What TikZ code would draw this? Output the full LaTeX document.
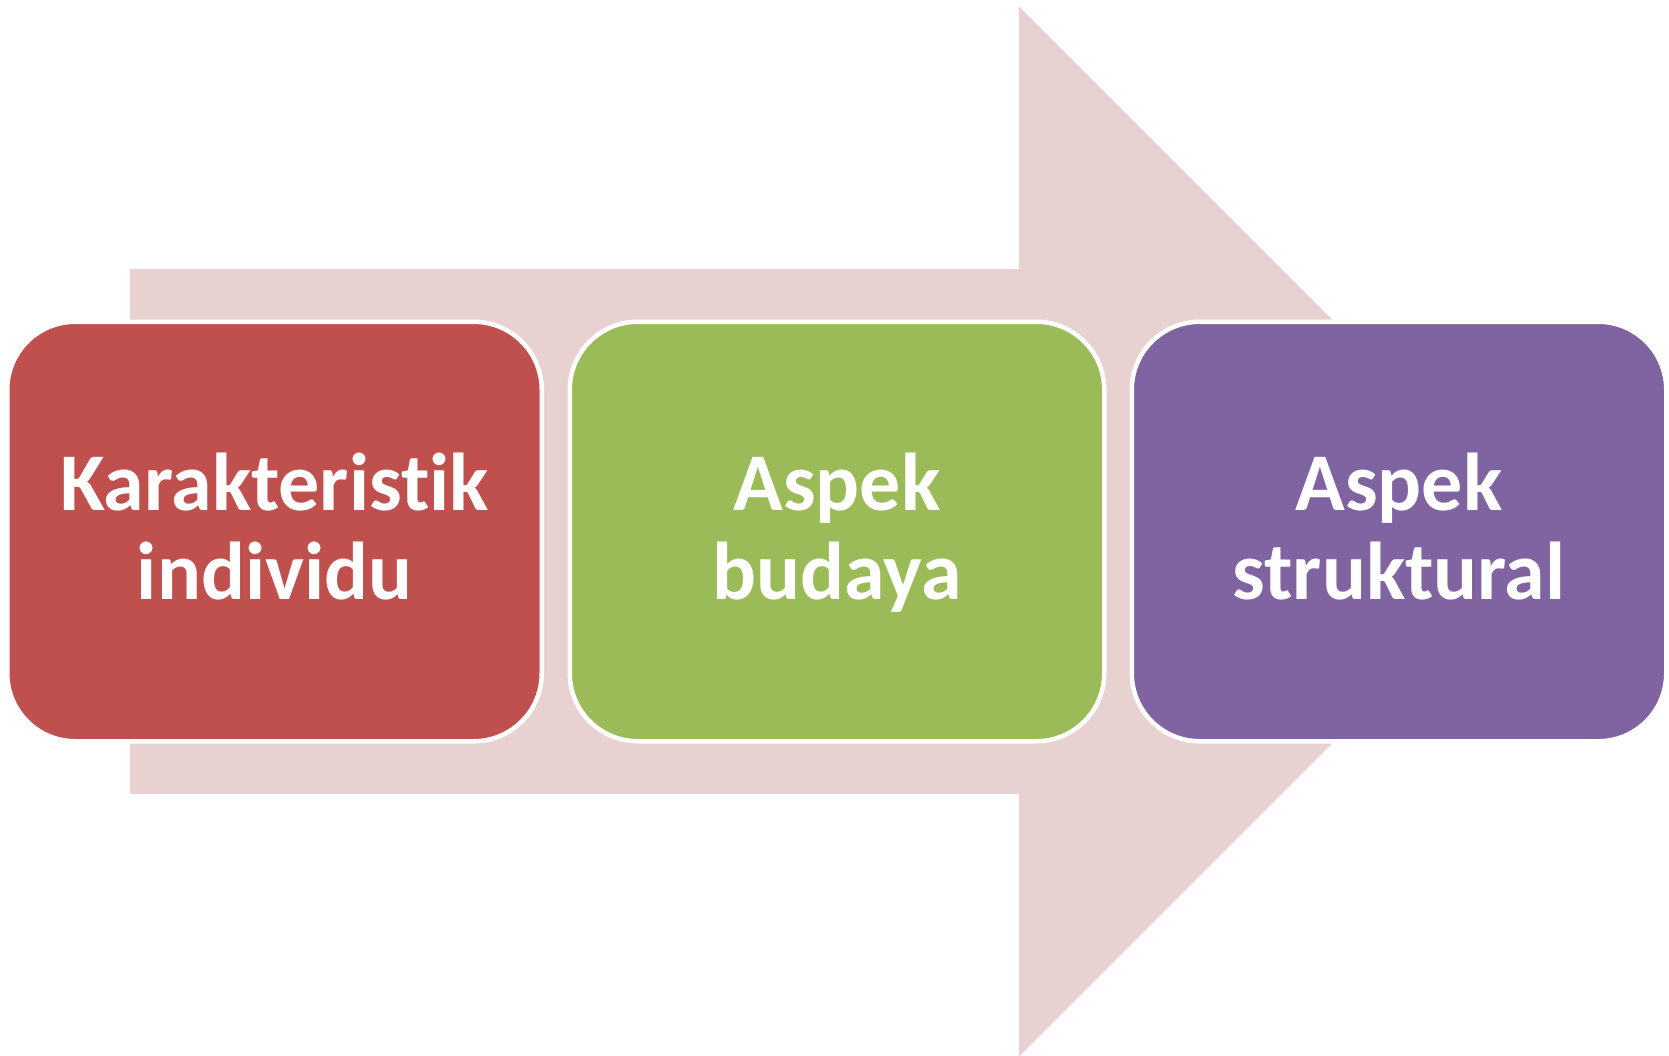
\documentclass[tikz,border=0pt]{standalone}
\usepackage{fontspec}
\setmainfont{Carlito}[RawFeature={-liga;-clig;-dlig}]
\usetikzlibrary{calc}
\definecolor{arrowpink}{HTML}{E8D1D1}
\definecolor{boxred}{HTML}{C0504D}
\definecolor{boxgreen}{HTML}{9BBB59}
\definecolor{boxpurple}{HTML}{8064A2}
\tikzset{
  stagebox/.style={draw=white, line width=2.25pt, rounded corners=34pt,
    minimum width=267.25pt, minimum height=209.75pt, inner sep=0pt},
  lbl/.style={text=white, font=\fontsize{41}{48}\selectfont\bfseries,
    inner sep=0pt, anchor=base}
}
\begin{document}
\begin{tikzpicture}[x=0.5pt, y=-0.5pt]
\useasboundingbox (0,0) rectangle (1669,1055);
\fill[white] (0,0) rectangle (1669,1055);
% big background arrow
\fill[arrowpink] (130,269) -- (1019,269) -- (1019,6.5) -- (1544,531.5)
  -- (1019,1056.5) -- (1019,794) -- (130,794) -- cycle;
% boxes
\node[stagebox, fill=boxred] (b1) at (274.5,531.5) {};
\node[stagebox, fill=boxgreen] (b2) at (837,531.5) {};
\node[stagebox, fill=boxpurple] (b3) at (1399,531.5) {};
% labels
\node[lbl] (t1a) at ([yshift=10.75pt]b1.center) {Karakteristik};
\node[lbl] (t1b) at ([yshift=-33.75pt]b1.center) {individu};
\node[lbl] (t2a) at ([yshift=10.75pt]b2.center) {Aspek};
\node[lbl] (t2b) at ([yshift=-33.75pt]b2.center) {budaya};
\node[lbl] (t3a) at ([yshift=10.75pt]b3.center) {Aspek};
\node[lbl] (t3b) at ([yshift=-33.75pt]b3.center) {struktural};
\end{tikzpicture}
\end{document}
